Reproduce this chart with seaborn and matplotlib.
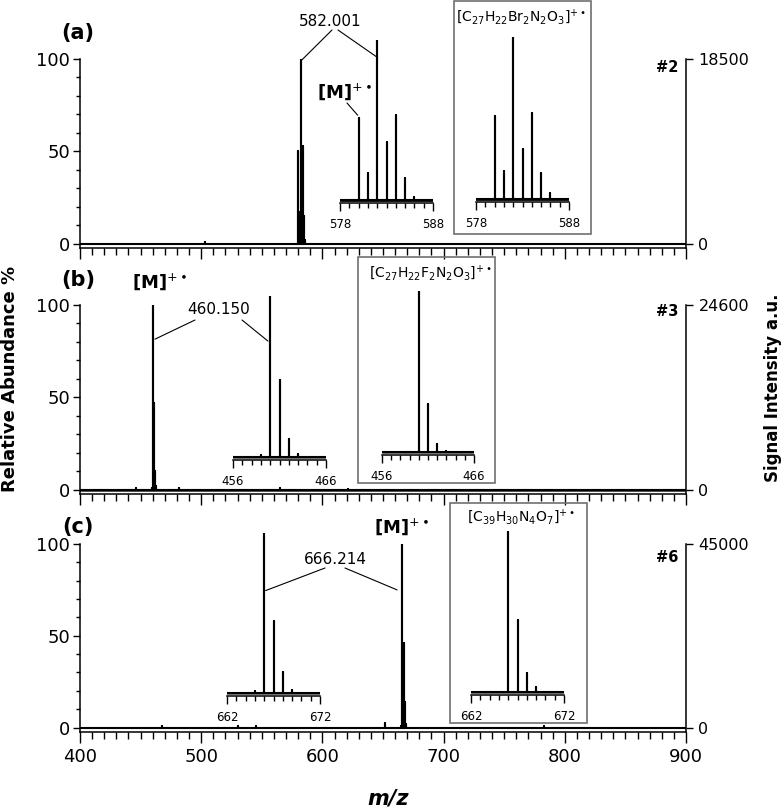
import matplotlib
matplotlib.use("Agg")
import matplotlib.pyplot as plt
import numpy as np
import pandas as pd
import seaborn as sns
from matplotlib.patches import Rectangle, ConnectionPatch
from matplotlib.ticker import MultipleLocator

# ---------------- data ----------------
panel_labels = ["(a)", "(b)", "(c)"]
sample_ids = ["#2", "#3", "#6"]
intensity_max = [18500, 24600, 45000]
annot_mass = ["582.001", "460.150", "666.214"]
formulas = [r"$\mathrm{[C_{27}H_{22}Br_{2}N_{2}O_{3}]^{+\bullet}}$",
            r"$\mathrm{[C_{27}H_{22}F_{2}N_{2}O_{3}]^{+\bullet}}$",
            r"$\mathrm{[C_{39}H_{30}N_{4}O_{7}]^{+\bullet}}$"]

# full spectra (relative abundance %)
a_mz = [503, 580, 581, 582, 583, 584, 585, 586]
a_ab = [0.6, 50, 17, 100, 36, 53, 15, 2]
b_mz = [446, 459, 460, 461, 462, 463, 482, 565, 621]
b_ab = [0.8, 1, 100, 47, 10, 2, 0.6, 0.6, 0.5]
c_mz = [468, 530, 545, 652, 665, 666, 667, 668, 669, 783]
c_ab = [0.6, 0.8, 0.8, 2.5, 1, 100, 46, 14, 2, 1]

# experimental isotope patterns (zoom insets)
a_exp_mz = [580, 581, 582, 583, 584, 585, 586]
a_exp_ab = [51, 17, 100, 36, 53, 14, 2]
b_exp_mz = [459, 460, 461, 462, 463]
b_exp_ab = [1, 100, 48, 11, 2]
c_exp_mz = [665, 666, 667, 668, 669]
c_exp_ab = [1, 100, 45, 13, 2]

# theoretical isotope patterns
a_th_mz = [580, 581, 582, 583, 584, 585, 586]
a_th_ab = [51, 17, 100, 31, 53, 16, 4]
b_th_mz = [460, 461, 462, 463]
b_th_ab = [100, 30, 5, 0.5]
c_th_mz = [666, 667, 668, 669]
c_th_ab = [100, 44.5, 11.6, 3]

inset_ranges = [(578, 588), (456, 466), (662, 672)]
main_range = (400, 900)

# ---------------- style ----------------
sns.set_theme(style="ticks")
plt.rcParams["font.family"] = ["DejaVu Sans"]
plt.rcParams["mathtext.fontset"] = "dejavusans"
plt.rcParams["axes.linewidth"] = 1.1
for k in ["text.color", "axes.labelcolor", "xtick.color", "ytick.color", "axes.edgecolor"]:
    plt.rcParams[k] = "black"

W, H = 784, 810
fig = plt.figure(figsize=(W / 100, H / 100), dpi=100)


def fx(px):
    return px / W


def fy(py):
    return 1 - py / H


def ax_px(x0, x1, ytop, ybot):
    return fig.add_axes([x0 / W, 1 - ybot / H, (x1 - x0) / W, (ybot - ytop) / H])


def sticks(mz, ab, lo, hi):
    xs, ys = [lo], [0.0]
    for m, a in sorted(zip(mz, ab)):
        xs += [m, m, m]
        ys += [0.0, a, 0.0]
    xs.append(hi)
    ys.append(0.0)
    return pd.DataFrame({"mz": xs, "ab": ys})


def draw_sticks(ax, mz, ab, lo, hi, lw=1.4, color="black"):
    df = sticks(mz, ab, lo, hi)
    sns.lineplot(data=df, x="mz", y="ab", estimator=None, sort=False,
                 ax=ax, color=color, lw=lw)
    ax.set_xlabel("")
    ax.set_ylabel("")


main_px = [(59, 247.6), (305, 493.6), (544, 731.6)]
main_axes = []
spectra = [(a_mz, a_ab), (b_mz, b_ab), (c_mz, c_ab)]
base_cols = ["black", "#555555", "black"]
for i, ((ytop, ybot), (mz, ab)) in enumerate(zip(main_px, spectra)):
    ax = ax_px(80, 686, ytop, ybot)
    draw_sticks(ax, mz, ab, *main_range, lw=1.5)
    if i == 1:
        ax.plot(main_range, [0, 0], color=base_cols[i], lw=2.2, zorder=1)
    ax.set_xlim(*main_range)
    ax.set_ylim(-2.2, 100)
    for s in ["top", "right"]:
        ax.spines[s].set_visible(False)
    ax.set_yticks([0, 50, 100])
    ax.yaxis.set_minor_locator(MultipleLocator(10))
    ax.xaxis.set_major_locator(MultipleLocator(100))
    ax.xaxis.set_minor_locator(MultipleLocator(10))
    ax.tick_params(axis="y", which="major", length=5, width=1.0, labelsize=13, pad=2, direction="out")
    ax.tick_params(axis="y", which="minor", length=3, width=1.0, direction="out")
    ax.tick_params(axis="x", which="major", length=8, width=1.0, labelsize=13, pad=4, direction="out")
    ax.tick_params(axis="x", which="minor", length=5, width=1.0, direction="out")
    if i < 2:
        ax.tick_params(axis="x", labelbottom=False)
    ax.patch.set_alpha(0)
    # right intensity axis
    ax2 = ax.twinx()
    mx = intensity_max[i]
    ax2.set_ylim(-2.2 * mx / 100, mx)
    ax2.set_yticks([0, mx])
    ax2.set_yticklabels(["0", str(mx)])
    for s in ["top", "left", "bottom"]:
        ax2.spines[s].set_visible(False)
    ax2.tick_params(axis="y", length=5, width=1.0, labelsize=11.5, pad=4, direction="out")
    ax2.grid(False)
    main_axes.append(ax)

# panel labels and sample ids
for lab, y in zip(panel_labels, [33, 280, 527]):
    fig.text(fx(78), fy(y), lab, ha="center", va="center", fontsize=15, fontweight="bold")
for sid, y in zip(sample_ids, [68, 312, 558]):
    fig.text(fx(678), fy(y), sid, ha="right", va="center", fontsize=10.5, fontweight="bold")

# ---------------- insets ----------------
exp_px = [(340, 433, 40, 200), (233, 326, 296, 457), (227, 320, 533, 693)]
th_px = [(476, 569, 37, 199), (382, 474, 291, 452), (471, 564, 531, 692)]
exp_data = [(a_exp_mz, a_exp_ab), (b_exp_mz, b_exp_ab), (c_exp_mz, c_exp_ab)]
th_data = [(a_th_mz, a_th_ab), (b_th_mz, b_th_ab), (c_th_mz, c_th_ab)]
boxes = [(454, 1, 591, 234), (358, 257, 495, 483), (450, 503, 587, 723)]
formula_pos = [(521, 17), (430, 273), (521, 517)]
inset_base = ["black", "#666666", "#666666"]


def make_inset(geom, data, rng, basecol):
    x0, x1, ytop, ybase = geom
    scale = (ybase - ytop) / 100.0
    ybot = ybase + 1.6 * scale
    ax = ax_px(x0, x1, ytop, ybot)
    draw_sticks(ax, data[0], data[1], *rng, lw=1.5)
    ax.plot(rng, [0, 0], color=basecol, lw=2.0, zorder=1)
    ax.set_xlim(*rng)
    ax.set_ylim(-1.6, 100)
    for s in ["top", "right", "left"]:
        ax.spines[s].set_visible(False)
    ax.set_yticks([])
    ax.set_xticks(list(rng))
    ax.xaxis.set_minor_locator(MultipleLocator(1))
    ax.tick_params(axis="x", which="major", length=6, width=1.0, labelsize=8.5, pad=5, direction="out")
    ax.tick_params(axis="x", which="minor", length=3.5, width=1.0, direction="out")
    ax.patch.set_alpha(0)
    ax.grid(False)
    return ax


exp_axes, th_axes = [], []
for i in range(3):
    exp_axes.append(make_inset(exp_px[i], exp_data[i], inset_ranges[i], inset_base[i]))
    bx0, by0, bx1, by1 = boxes[i]
    rect = Rectangle((fx(bx0), fy(by1)), fx(bx1) - fx(bx0), fy(by0) - fy(by1),
                     transform=fig.transFigure, fill=False, edgecolor="#707070", lw=1.2)
    fig.add_artist(rect)
    th_axes.append(make_inset(th_px[i], th_data[i], inset_ranges[i], inset_base[i]))
    fig.text(fx(formula_pos[i][0]), fy(formula_pos[i][1]), formulas[i],
             ha="center", va="center", fontsize=10)


# ---------------- annotations ----------------
def link(p_px, ax, xy, lw=0.8):
    cp = ConnectionPatch(xyA=(fx(p_px[0]), fy(p_px[1])), coordsA=fig.transFigure,
                         xyB=xy, coordsB=ax.transData, color="black", lw=lw)
    fig.add_artist(cp)


mlabel = r"[M]$^{+\bullet}$"
# (a)
fig.text(fx(330), fy(22), annot_mass[0], ha="center", va="center", fontsize=11)
link((332, 30), main_axes[0], (582.3, 99))
link((338, 30), exp_axes[0], (582.05, 89))
fig.text(fx(345), fy(92), mlabel, ha="center", va="center", fontsize=13, fontweight="bold")
link((347, 103), exp_axes[0], (579.9, 53))
# (b)
fig.text(fx(160), fy(282), mlabel, ha="center", va="center", fontsize=13, fontweight="bold")
fig.text(fx(219), fy(309), annot_mass[1], ha="center", va="center", fontsize=11)
link((195, 320), main_axes[1], (461.9, 81.5))
link((242, 320), exp_axes[1], (459.76, 72))
# (c)
fig.text(fx(402), fy(527), mlabel, ha="center", va="center", fontsize=13, fontweight="bold")
fig.text(fx(335), fy(559), annot_mass[2], ha="center", va="center", fontsize=11)
link((325, 568), exp_axes[2], (666.15, 64))
link((345, 568), main_axes[2], (661.6, 75))

# axis titles
fig.text(fx(10), fy(379), "Relative Abundance %", rotation=90, ha="center", va="center",
         fontsize=13, fontweight="bold")
fig.text(fx(773), fy(388), "Signal Intensity a.u.", rotation=90, ha="center", va="center",
         fontsize=12, fontweight="bold")
fig.text(fx(388), fy(798), "m/z", ha="center", va="center", fontsize=15,
         fontweight="bold", fontstyle="italic")

fig.savefig("out.png", dpi=100)
